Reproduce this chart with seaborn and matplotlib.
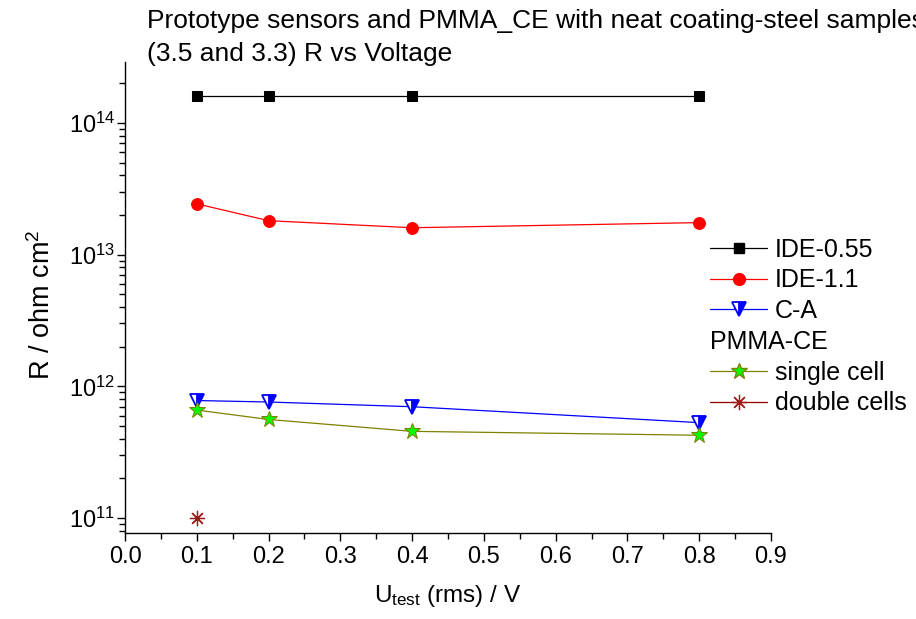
import numpy as np
import pandas as pd
import matplotlib
matplotlib.use("Agg")
import matplotlib.pyplot as plt
from matplotlib.lines import Line2D
from matplotlib.ticker import MultipleLocator, LogLocator, NullFormatter
import seaborn as sns

# data
voltage = [0.1, 0.2, 0.4, 0.8]
ide_055 = [1.6e14, 1.6e14, 1.6e14, 1.6e14]
ide_11 = [2.43e13, 1.81e13, 1.6e13, 1.75e13]
c_a = [7.8e11, 7.6e11, 7.0e11, 5.3e11]
single_cell = [6.6e11, 5.6e11, 4.55e11, 4.25e11]
double_volt = [0.1]
double_cells = [1.0e11]

sns.set_style("ticks")
plt.rcParams['font.family'] = ['Liberation Sans', 'DejaVu Sans']
plt.rcParams['mathtext.fontset'] = 'custom'
plt.rcParams['mathtext.rm'] = 'Liberation Sans'
plt.rcParams['mathtext.it'] = 'Liberation Sans:italic'
plt.rcParams['text.color'] = 'black'
plt.rcParams['axes.labelcolor'] = 'black'

tick_fs = 17
fig = plt.figure(figsize=(9.16, 6.19), dpi=100)
ax = fig.add_axes([0.1365, 0.139, 0.7052, 0.7608])

series = [
    ('IDE-0.55', voltage, ide_055, dict(color='black', marker='s', markersize=7.5,
                                        markerfacecolor='black', markeredgecolor='black')),
    ('IDE-1.1', voltage, ide_11, dict(color='red', marker='o', markersize=8.5,
                                      markerfacecolor='red', markeredgecolor='red')),
    ('C-A', voltage, c_a, dict(color='blue', marker='v', markersize=10.5, fillstyle='right',
                               markerfacecolor='blue', markerfacecoloralt='white',
                               markeredgecolor='blue', markeredgewidth=1.3)),
    ('single cell', voltage, single_cell, dict(color='#808000', marker='*', markersize=12,
                                               markerfacecolor='#00ff00', markeredgecolor='#808000')),
    ('double cells', double_volt, double_cells, dict(color='#900000', marker=(8, 2, 0), markersize=11,
                                                     markeredgecolor='#a01818', markeredgewidth=0.9)),
]

handles = []
for name, xs, ys, kw in series:
    df = pd.DataFrame({'U': xs, 'R': ys})
    sns.lineplot(data=df, x='U', y='R', ax=ax, linewidth=0.9, errorbar=None, **kw)
    handles.append(Line2D([], [], linewidth=0.9, label=name, **kw))

ax.set_yscale('log')
ax.set_ylim(7.7e10, 2.9e14)
ax.set_xlim(0.0, 0.9)
ax.xaxis.set_major_locator(MultipleLocator(0.1))
ax.xaxis.set_minor_locator(MultipleLocator(0.05))
ax.yaxis.set_major_locator(LogLocator(base=10, numticks=10))
ax.yaxis.set_minor_locator(LogLocator(base=10, subs=np.arange(2, 10), numticks=10))
ax.yaxis.set_minor_formatter(NullFormatter())
ax.tick_params(which='major', length=6, width=1, labelsize=tick_fs, color='black', labelcolor='black')
ax.tick_params(axis='y', which='major', pad=1)
ax.tick_params(which='minor', length=4, width=1, color='black')
for s in ['left', 'bottom']:
    ax.spines[s].set_color('black')
    ax.spines[s].set_linewidth(1)
sns.despine(ax=ax)

ax.set_xlabel('U$_{\\mathrm{test}}$ (rms) / V', fontsize=17.5, labelpad=11)
ax.set_ylabel('R / ohm cm$^{2}$', fontsize=19.5)
ax.yaxis.set_label_coords(-0.107, 0.484)

# legend with a heading row for PMMA-CE
blank = Line2D([], [], linestyle='none', marker=None, label=' ')
leg_handles = handles[:3] + [blank] + handles[3:]
leg = fig.legend(handles=leg_handles, loc='upper left', bbox_to_anchor=(0.775, 0.616),
                 frameon=False, fontsize=18, handlelength=2.3, handletextpad=0.3,
                 labelspacing=0.27, borderpad=0, borderaxespad=0, labelcolor='black')

fig.canvas.draw()
r = fig.canvas.get_renderer()
texts = leg.get_texts()
b2 = texts[2].get_window_extent(r)
b4 = texts[4].get_window_extent(r)
ymid = ((b2.y0 + b2.y1) / 2 + (b4.y0 + b4.y1) / 2) / 2
x0 = leg.get_window_extent(r).x0
xf, yf = fig.transFigure.inverted().transform((x0, ymid))
fig.text(xf, yf, 'PMMA-CE', fontsize=18, va='center', ha='left')

fig.text(0.1605, 0.985, 'Prototype sensors and PMMA_CE with neat coating-steel samples\n(3.5 and 3.3) R vs Voltage',
         fontsize=19, va='top', ha='left', linespacing=1.45)

fig.savefig('out.png', dpi=100, facecolor='white')
